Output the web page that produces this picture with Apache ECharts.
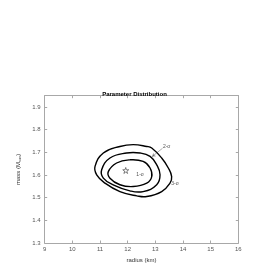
<!DOCTYPE html>
<html>
<head>
<meta charset="utf-8">
<script src="https://cdn.jsdelivr.net/npm/echarts@6/dist/echarts.min.js"></script>
<style>html,body{margin:0;padding:0;background:#fff}#c{width:269px;height:276px}</style>
</head>
<body>
<div id="c"></div>
<script>
// contour vertices [radius km, mass Msun]
var sigma3 = [[10.82,1.638],[11.12,1.697],[11.72,1.726],[12.20,1.734],[12.69,1.726],[12.87,1.719],[13.23,1.675],[13.47,1.631],[13.59,1.593],[13.53,1.564],[13.23,1.527],[12.69,1.505],[12.33,1.508],[11.72,1.527],[11.18,1.564],[10.88,1.601]];
var sigma2 = [[11.06,1.623],[11.36,1.675],[11.96,1.697],[12.45,1.697],[12.81,1.682],[13.05,1.645],[13.17,1.601],[13.05,1.557],[12.56,1.527],[12.08,1.530],[11.48,1.557],[11.12,1.586]];
var sigma1 = [[11.30,1.615],[11.60,1.653],[12.08,1.667],[12.56,1.660],[12.81,1.631],[12.87,1.593],[12.69,1.564],[12.20,1.549],[11.72,1.557],[11.36,1.586]];
var bestFit = [[11.93,1.62]];
var labels = [[12.45,1.601,'1-σ'],[13.41,1.727,'2-σ'],[13.71,1.561,'3-σ']];
var arrow = [[13.26,1.718],[12.88,1.681]];
var xTicks = [9,10,11,12,13,14,15,16];
var yTicks = [1.3,1.4,1.5,1.6,1.7,1.8,1.9];

var axisGray = '#a8a8a8';
var labelGray = '#555';
var FONT = 'Liberation Sans, Arial, sans-serif';

function contourSeries(pts) {
  return {
    type: 'custom',
    data: pts,
    encode: {x: 0, y: 1},
    silent: true,
    renderItem: function (params, api) {
      if (params.dataIndex !== 0) return null;
      var p = pts.map(function (d) { return api.coord(d); });
      return {type: 'polygon', shape: {points: p, smooth: 0.45},
        style: {fill: 'none', stroke: '#000', lineWidth: 1.4}};
    }
  };
}

var starPath = 'path://M0,-1 L0.2245,-0.309 L0.951,-0.309 L0.363,0.118 L0.588,0.809 L0,0.382 L-0.588,0.809 L-0.363,0.118 L-0.951,-0.309 L-0.2245,-0.309 Z';

var chart = echarts.init(document.getElementById('c'), null, {renderer: 'canvas'});
var xBase = {min: xTicks[0], max: xTicks[xTicks.length-1], interval: 1, splitLine: {show: false},
  axisLine: {show: true, lineStyle: {color: axisGray, width: 1}},
  axisTick: {show: true, inside: true, length: 2.5, lineStyle: {color: axisGray}}};
var yBase = {min: yTicks[0], max: 1.95, interval: 0.1, splitLine: {show: false},
  axisLine: {show: true, lineStyle: {color: axisGray, width: 1}},
  axisTick: {show: true, inside: true, length: 2.5, lineStyle: {color: axisGray}}};

chart.setOption({
  animation: false,
  backgroundColor: '#fff',
  title: {text: 'Parameter Distribution', left: 'center', top: 86,
    textStyle: {fontFamily: FONT, fontSize: 6, fontWeight: 'bold', color: '#000'}},
  grid: {left: 44.7, right: 30.7, top: 95.7, bottom: 33},
  xAxis: [
    Object.assign({}, xBase, {type: 'value', position: 'bottom',
      name: 'radius (km)', nameLocation: 'middle', nameGap: 10.5,
      nameTextStyle: {fontFamily: FONT, fontSize: 6, color: '#333'},
      axisLabel: {fontFamily: FONT, fontSize: 6, color: labelGray, margin: 3}}),
    Object.assign({}, xBase, {type: 'value', position: 'top', axisLabel: {show: false}})
  ],
  yAxis: [
    Object.assign({}, yBase, {type: 'value', position: 'left',
      name: 'mass (M{sub|sun})', nameLocation: 'middle', nameGap: 16, nameRotate: 90,
      nameTextStyle: {fontFamily: FONT, fontSize: 6, color: '#333',
        rich: {sub: {fontFamily: FONT, fontSize: 4, color: '#333', verticalAlign: 'bottom', padding: [3,0,0,0]}}},
      axisLabel: {fontFamily: FONT, fontSize: 6, color: labelGray, margin: 4, showMaxLabel: false,
        formatter: function (v) { return v.toFixed(1); }}}),
    Object.assign({}, yBase, {type: 'value', position: 'right', axisLabel: {show: false}})
  ],
  series: [
    contourSeries(sigma3),
    contourSeries(sigma2),
    contourSeries(sigma1),
    {type: 'scatter', data: bestFit, symbol: starPath, symbolSize: 6, silent: true,
      itemStyle: {color: '#fff', borderColor: '#000', borderWidth: 0.6}},
    {type: 'scatter', data: labels, symbolSize: 0, silent: true,
      label: {show: true, position: 'inside', formatter: function (p) { return p.data[2]; },
        fontFamily: FONT, fontSize: 5, color: '#222'}},
    {type: 'lines', coordinateSystem: 'cartesian2d', silent: true,
      data: [{coords: arrow}], symbol: ['none', 'arrow'], symbolSize: 3.5,
      lineStyle: {color: '#333', width: 0.8}}
  ]
});
</script>
</body>
</html>
